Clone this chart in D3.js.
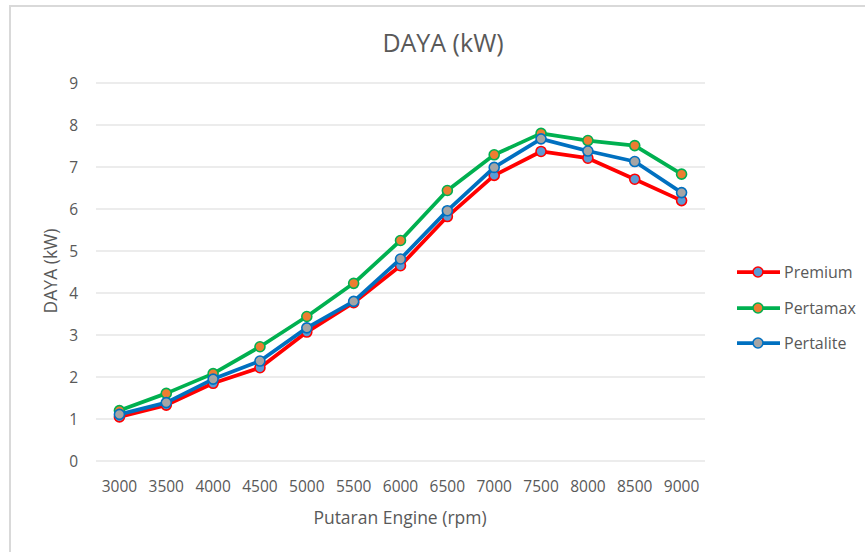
<!DOCTYPE html>
<html>
<head>
<meta charset="utf-8">
<script src="https://cdn.jsdelivr.net/npm/d3@7"></script>
<style>
  html, body { margin: 0; padding: 0; background: #fff; }
  svg { display: block; font-family: "Open Sans", "Noto Sans", sans-serif; }
</style>
</head>
<body>
<svg id="chart" width="865" height="552"></svg>
<script>
const categories = ["3000","3500","4000","4500","5000","5500","6000","6500","7000","7500","8000","8500","9000"];
const premium   = [1.05, 1.33, 1.85, 2.22, 3.07, 3.77, 4.65, 5.82, 6.80, 7.37, 7.21, 6.71, 6.20];
const pertamax  = [1.20, 1.61, 2.08, 2.72, 3.44, 4.23, 5.25, 6.44, 7.29, 7.80, 7.63, 7.51, 6.83];
const pertalite = [1.11, 1.39, 1.95, 2.38, 3.17, 3.80, 4.81, 5.96, 6.99, 7.67, 7.38, 7.13, 6.39];
const seriesNames = ["Premium", "Pertamax", "Pertalite"];
const yTicks = [0,1,2,3,4,5,6,7,8,9];

const series = [
  {name: seriesNames[0], values: premium,   line: "#FF0000", fill: "#5B9BD5"},
  {name: seriesNames[1], values: pertamax,  line: "#00B050", fill: "#ED7D31"},
  {name: seriesNames[2], values: pertalite, line: "#0070C0", fill: "#A5A5A5"}
];

const svg = d3.select("#chart");
const textColor = "#595959";

// outer border
svg.append("rect").attr("x", 10).attr("y", 6).attr("width", 900).attr("height", 600)
  .attr("fill", "none").attr("stroke", "#D9D9D9").attr("stroke-width", 2);

const x = d3.scaleBand().domain(categories).range([96, 705]);
const y = d3.scaleLinear().domain([0, 9]).range([461, 83]);
const cx = c => x(c) + x.bandwidth() / 2;

// gridlines
svg.append("g").selectAll("line").data(yTicks).join("line")
  .attr("x1", 96).attr("x2", 705)
  .attr("y1", d => y(d)).attr("y2", d => y(d))
  .attr("stroke", "#D9D9D9").attr("stroke-width", 1);

// y tick labels
svg.append("g").selectAll("text").data(yTicks).join("text")
  .attr("x", 78).attr("y", d => y(d))
  .attr("text-anchor", "end").attr("dominant-baseline", "central")
  .attr("font-size", 15.5).attr("fill", textColor)
  .text(d => d);

// x tick labels
svg.append("g").selectAll("text").data(categories).join("text")
  .attr("x", d => cx(d)).attr("y", 486)
  .attr("text-anchor", "middle").attr("dominant-baseline", "central")
  .attr("font-size", 15.5).attr("fill", textColor)
  .text(d => d);

// titles
svg.append("text").attr("x", 443).attr("y", 42)
  .attr("text-anchor", "middle").attr("dominant-baseline", "central")
  .attr("font-size", 25).attr("fill", textColor).text("DAYA (kW)");
svg.append("text").attr("x", 400).attr("y", 517)
  .attr("text-anchor", "middle").attr("dominant-baseline", "central")
  .attr("font-size", 17.5).attr("fill", textColor).text("Putaran Engine (rpm)");
svg.append("text").attr("transform", "translate(50,271) rotate(-90)")
  .attr("text-anchor", "middle").attr("dominant-baseline", "central")
  .attr("font-size", 17.5).attr("fill", textColor).text("DAYA (kW)");

const line = d3.line().x((d, i) => cx(categories[i])).y(d => y(d));

series.forEach(s => {
  const g = svg.append("g");
  g.append("path").attr("d", line(s.values))
    .attr("fill", "none").attr("stroke", s.line).attr("stroke-width", 3.75)
    .attr("stroke-linejoin", "round").attr("stroke-linecap", "round");
  g.selectAll("circle").data(s.values).join("circle")
    .attr("cx", (d, i) => cx(categories[i])).attr("cy", d => y(d))
    .attr("r", 5).attr("fill", s.fill).attr("stroke", s.line).attr("stroke-width", 1.6);
});

// legend
const legY = [272, 308, 343];
series.forEach((s, i) => {
  const g = svg.append("g");
  g.append("line").attr("x1", 737).attr("x2", 780).attr("y1", legY[i]).attr("y2", legY[i])
    .attr("stroke", s.line).attr("stroke-width", 3.75);
  g.append("circle").attr("cx", 758).attr("cy", legY[i]).attr("r", 5)
    .attr("fill", s.fill).attr("stroke", s.line).attr("stroke-width", 1.6);
  g.append("text").attr("x", 784).attr("y", legY[i])
    .attr("dominant-baseline", "central").attr("font-size", 16).attr("fill", textColor)
    .text(s.name);
});
</script>
</body>
</html>
